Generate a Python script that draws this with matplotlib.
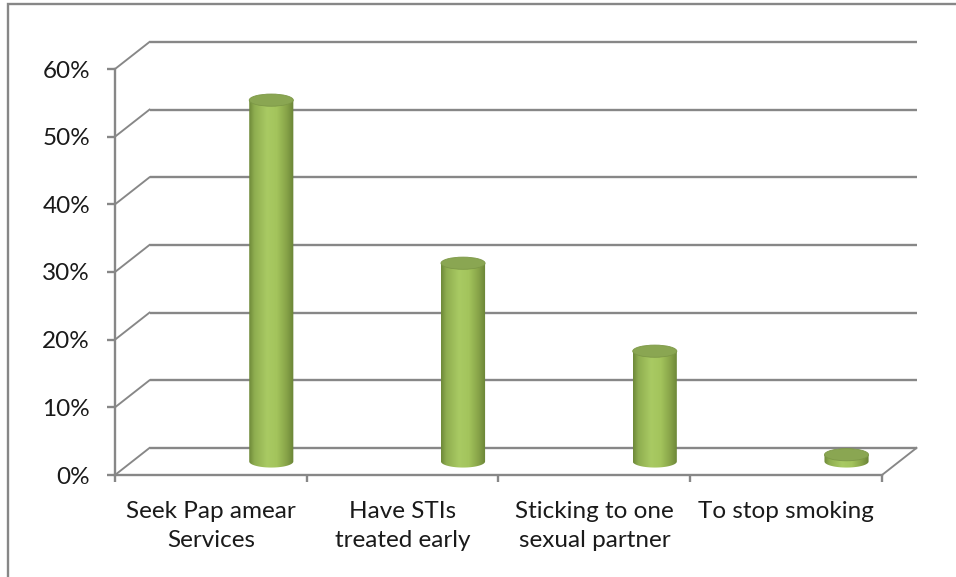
import numpy as np
import matplotlib
matplotlib.use("Agg")
import matplotlib.pyplot as plt
from matplotlib.patches import Ellipse, PathPatch, Rectangle
from matplotlib.path import Path
from matplotlib.colors import to_rgb

# ---- data -------------------------------------------------------------
categories = ["Seek Pap amear\nServices", "Have STIs\ntreated early",
              "Sticking to one\nsexual partner", "To stop smoking"]
values = [53.4, 29.3, 16.3, 1.0]          # percent
y_ticks = [0, 10, 20, 30, 40, 50, 60]
y_tick_labels = ["0%", "10%", "20%", "30%", "40%", "50%", "60%"]

# ---- styling / pseudo-3D layout --------------------------------------
GRID = "#878787"
LW = 1.7
DEPTH_X = 0.18        # oblique depth offset, in category units
DEPTH_Y = 4.0         # oblique depth offset, in percent units
BAR_POS = 0.815       # cylinder centre inside each category slot
BAR_HW = 0.115        # cylinder half width (category units)
CAP_RY = 0.9          # half height of the elliptical caps (percent units)
FONT = "Lato"
FS = 17.5

W, H = 956, 577
fig = plt.figure(figsize=(W / 100, H / 100), dpi=100)
fig.patch.set_facecolor("white")

# plot area = front plane of the 3D box
ax = fig.add_axes([115 / W, (H - 475) / H, (882 - 115) / W, (475 - 69) / H])
ax.set_facecolor("none")
n = len(categories)
ax.set_xlim(0, n)
ax.set_ylim(0, 60)

# chart border
fig.add_artist(Rectangle((8 / W, -0.02), 1.05, 1 - 4 / H + 0.02,
                         transform=fig.transFigure, fill=False,
                         edgecolor=GRID, linewidth=LW))

# back wall gridlines and left wall diagonals
for v in y_ticks:
    ax.plot([DEPTH_X, n + DEPTH_X], [v + DEPTH_Y, v + DEPTH_Y],
            color=GRID, lw=LW, clip_on=False, zorder=1, solid_capstyle="butt")
    ax.plot([0, DEPTH_X], [v, v + DEPTH_Y], color=GRID, lw=LW * 0.8,
            clip_on=False, zorder=1)
# floor right edge
ax.plot([n, n + DEPTH_X], [0, DEPTH_Y], color=GRID, lw=LW * 0.8,
        clip_on=False, zorder=1)

# horizontal shading of cylinder body
stops = [(0.00, "#6f8a3a"), (0.12, "#8fae50"), (0.40, "#a9ca63"),
         (0.62, "#a3c45c"), (0.85, "#86a248"), (1.00, "#6a8436")]
xs = np.linspace(0, 1, 64)
grad = np.zeros((1, 64, 3))
for ch in range(3):
    grad[0, :, ch] = np.interp(xs, [s[0] for s in stops],
                               [to_rgb(s[1])[ch] for s in stops])

base = DEPTH_Y / 2
t = np.linspace(np.pi, 2 * np.pi, 40)
for i, v in enumerate(values):
    c = i + BAR_POS
    top = base + v
    # body outline: left side, lower half ellipse, right side
    verts = [(c - BAR_HW, top)]
    verts += list(zip(c + BAR_HW * np.cos(t), base + CAP_RY * np.sin(t)))
    verts += [(c + BAR_HW, top), (c - BAR_HW, top)]
    codes = [Path.MOVETO] + [Path.LINETO] * (len(verts) - 2) + [Path.CLOSEPOLY]
    body = PathPatch(Path(verts, codes), transform=ax.transData,
                     facecolor="none", edgecolor="none")
    ax.add_patch(body)
    im = ax.imshow(grad, extent=[c - BAR_HW, c + BAR_HW, base - CAP_RY, top],
                   aspect="auto", interpolation="bilinear", zorder=3)
    im.set_clip_path(body)
    # top cap
    ax.add_patch(Ellipse((c, top), 2 * BAR_HW, 2 * CAP_RY, facecolor="#8aa652",
                         edgecolor="#7d9847", lw=0.6, zorder=4))

ax.set_xlim(0, n)
ax.set_ylim(0, 60)

# axes, ticks and labels
for side in ["top", "right"]:
    ax.spines[side].set_visible(False)
for side in ["left", "bottom"]:
    ax.spines[side].set_color(GRID)
    ax.spines[side].set_linewidth(LW)
    ax.spines[side].set_zorder(5)

ax.set_yticks(y_ticks)
ax.set_yticklabels(y_tick_labels, fontsize=FS, fontname=FONT, color="#1a1a1a")
ax.tick_params(axis="y", direction="out", length=6, width=LW, color=GRID, pad=12)

ax.set_xticks(range(n + 1))
ax.set_xticklabels([])
ax.tick_params(axis="x", which="major", direction="out", length=5, width=LW,
               color=GRID)
ax.set_xticks([i + 0.5 for i in range(n)], minor=True)
ax.set_xticklabels(categories, minor=True, fontsize=FS, fontname=FONT,
                   color="#1a1a1a", linespacing=1.45)
ax.tick_params(axis="x", which="minor", length=0, pad=19)

fig.savefig("out.png", dpi=100, facecolor="white")
